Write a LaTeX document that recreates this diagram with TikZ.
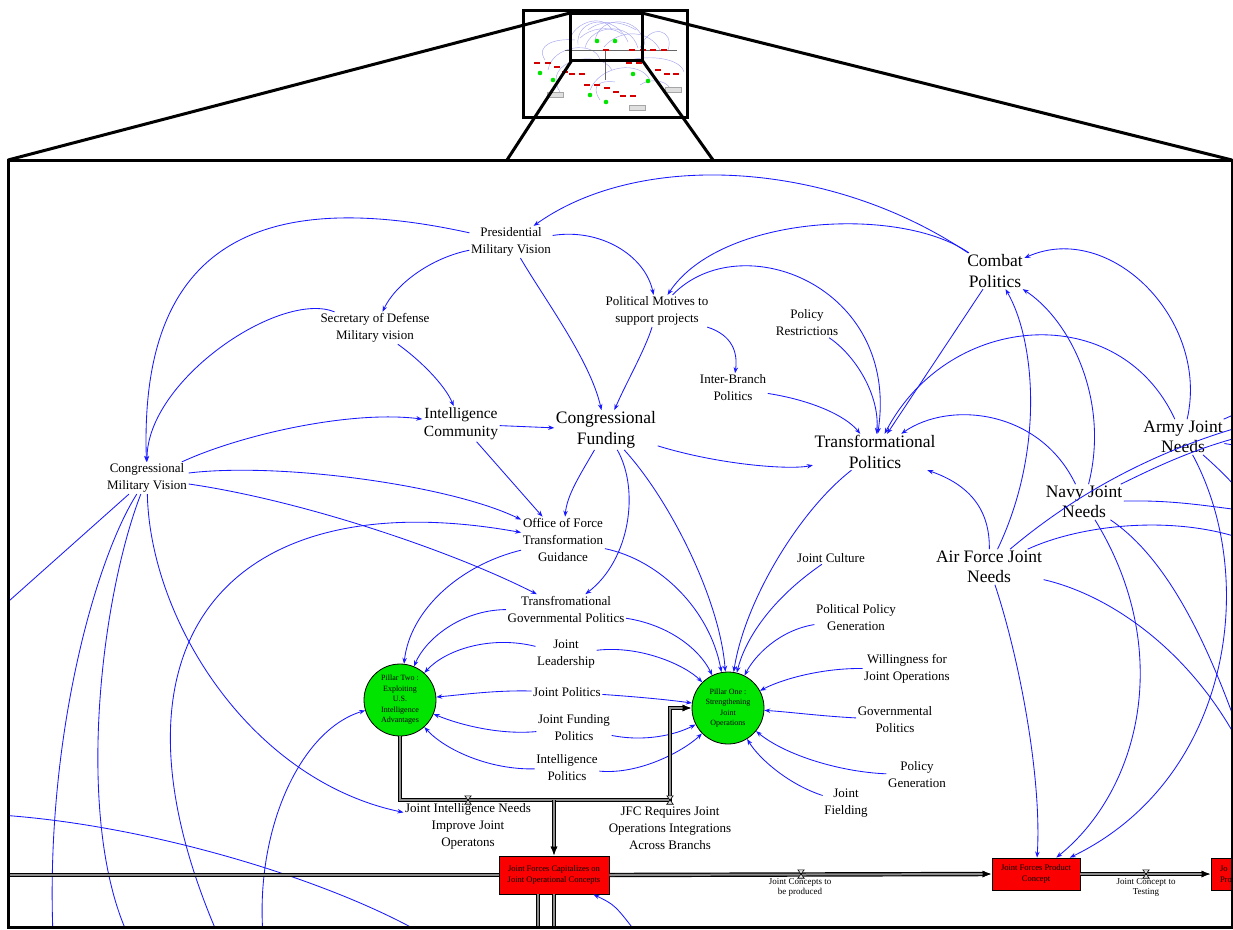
\documentclass[tikz,border=0pt]{standalone}
\usepackage{fontspec}
\setmainfont{Liberation Serif}
\usetikzlibrary{arrows.meta}

\definecolor{linkblue}{RGB}{25,25,255}
\definecolor{stockred}{RGB}{250,0,0}
\definecolor{pillargreen}{RGB}{0,228,0}
\definecolor{ghostblue}{RGB}{165,165,240}

\tikzset{
  lbl/.style={align=center, inner sep=1.5pt, font=\fontsize{13}{17}\selectfont},
  midlbl/.style={align=center, inner sep=1.5pt, font=\fontsize{15.5}{18}\selectfont},
  biglbl/.style={align=center, inner sep=1.5pt, font=\fontsize{17.5}{20.5}\selectfont},
  flowlbl/.style={align=center, inner sep=1pt, font=\fontsize{9}{10}\selectfont},
  link/.style={draw=linkblue, line width=0.85pt, -{Stealth[length=6pt,width=4.5pt]}},
  tail/.style={draw=linkblue, line width=0.85pt},
  pillar/.style={circle, draw=black, line width=0.8pt, fill=pillargreen, minimum size=72pt,
    inner sep=0pt, align=center, font=\fontsize{8}{10.5}\selectfont},
  stock/.style={rectangle, draw=black, line width=0.8pt, fill=stockred, align=center,
    inner sep=2pt, font=\fontsize{8.5}{11}\selectfont},
  pipe/.style={draw=black!45, line width=2pt, preaction={draw=black, line width=4.4pt}},
  pipeend/.style={-{Latex[length=9pt,width=7pt,color=black]}},
  valve/.style={minimum width=6pt, minimum height=8pt, inner sep=0pt},
  heavy/.style={draw=black, line width=3pt},
  mini/.style={fill=stockred!85!black, draw=none},
}

\begin{document}
\begin{tikzpicture}[x=1pt,y=-1pt]
\useasboundingbox (0,0) rectangle (1233,929);

% ---------- overview thumbnail ----------
\begin{scope}[ghostblue, line width=0.45pt]
  \draw (578,45) .. controls (575,18) and (615,12) .. (628,42);
  \draw (585,48) .. controls (590,25) and (630,20) .. (638,48);
  \draw (595,40) .. controls (600,15) and (640,15) .. (645,45);
  \draw (572,50) .. controls (560,30) and (600,8) .. (612,30);
  \draw (604,47) .. controls (620,28) and (650,30) .. (660,50);
  \draw (640,48) .. controls (650,22) and (675,30) .. (668,50);
  \draw (588,30) .. controls (600,20) and (620,20) .. (636,30);
  \draw (580,38) .. controls (590,28) and (610,25) .. (622,34);
  \draw (548,70) .. controls (552,45) and (595,40) .. (600,60);
  \draw (560,92) .. controls (540,60) and (600,48) .. (612,70);
  \draw (590,90) .. controls (600,65) and (640,60) .. (650,80);
  \draw (630,60) .. controls (650,55) and (680,58) .. (684,72);
  \draw (545,60) .. controls (535,45) and (555,38) .. (575,40);
  \draw (600,100) .. controls (590,85) and (600,80) .. (615,82);
  \draw (640,85) .. controls (650,78) and (665,80) .. (670,88);
\end{scope}
\draw[black!60, line width=0.4pt] (565,50) -- (677,50) (605,50) -- (605,80);
\foreach \p in {(606,50),(632,50),(643,50),(653,50),(664,50),(537,63),(548,63),(557,67),
  (565,72),(572,74),(582,74),(629,63),(639,63),(658,70),(667,74),(676,74),(587,85),
  (597,85),(607,88),(616,92),(623,96),(633,96)}
  \fill[mini] \p +(-3,-1.3) rectangle +(3,1.3);
\foreach \p in {(597,41),(615,41),(540,73),(633,74),(648,81),(590,95),(606,102),(553,80)}
  \fill[pillargreen] \p circle (2.3);
\foreach \p in {(555,95),(673,90),(637,108)}
  \filldraw[fill=gray!25, draw=gray!70, line width=0.3pt] \p +(-8,-2.5) rectangle +(8,2.5);
\draw[heavy] (523,10) rectangle (687,117);
\draw[heavy] (570,13) rectangle (642,60);
\draw[heavy] (8,160) -- (570,13);
\draw[heavy] (1232,160) -- (642,13);
\draw[heavy] (572,60) -- (507,160);
\draw[heavy] (642,60) -- (713,160);

% ---------- enlarged panel ----------
\begin{scope}
\clip (8,160) rectangle (1232,927);

% variables
\node[lbl] (pres) at (511,242) {Presidential\\Military Vision};
\node[lbl] (secdef) at (375,328) {Secretary of Defense\\Military vision};
\node[lbl] (polmot) at (657,311) {Political Motives to\\support projects};
\node[lbl] (polres) at (807,323) {Policy\\Restrictions};
\node[biglbl] (combat) at (995,271) {Combat\\Politics};
\node[lbl] (interb) at (733,388) {Inter-Branch\\Politics};
\node[midlbl] (intcom) at (461,424) {Intelligence\\Community};
\node[biglbl] (cfund) at (606,430) {Congressional\\Funding};
\node[biglbl] (tpol) at (875,452) {Transformational\\Politics};
\node[biglbl] (army) at (1183,437) {Army Joint\\Needs};
\node[biglbl] (navy) at (1084,502) {Navy Joint\\Needs};
\node[biglbl] (airf) at (989,567) {Air Force Joint\\Needs};
\node[lbl] (cmv) at (147,478) {Congressional\\Military Vision};
\node[lbl] (oft) at (563,540) {Office of Force\\Transformation\\Guidance};
\node[lbl] (tgp) at (566,609) {Transfromational\\Governmental Politics};
\node[lbl] (jcult) at (831,558) {Joint Culture};
\node[lbl] (ppg) at (856,618) {Political Policy\\Generation};
\node[lbl] (will) at (907,669) {Willingness for\\Joint Operations};
\node[lbl] (jlead) at (566,654) {Joint\\Leadership};
\node[lbl] (jpol) at (567,692) {Joint Politics};
\node[lbl] (jfund) at (574,728) {Joint Funding\\Politics};
\node[lbl] (ipol) at (567,768) {Intelligence\\Politics};
\node[lbl] (gpol) at (895,720) {Governmental\\Politics};
\node[lbl] (polgen) at (917,775) {Policy\\Generation};
\node[lbl] (jfield) at (846,803) {Joint\\Fielding};
\node[lbl] (jin) at (468,826) {Joint Intelligence Needs\\Improve Joint\\Operatons};
\node[lbl] (jfc) at (670,828) {JFC Requires Joint\\Operations Integrations\\Across Branchs};

% pillars and stocks
\node[pillar] (p2) at (400,700) {Pillar Two :\\Exploiting\\U.S.\\Intelligence\\Advantages};
\node[pillar] (p1) at (728,708) {Pillar One :\\Strengthening\\Joint\\Operations};
\node[stock, minimum width=110pt, minimum height=38pt] (cap) at (554,875)
  {Joint Forces Capitalizes on\\Joint Operational Concepts};
\node[stock, minimum width=88pt, minimum height=32pt] (jfpc) at (1036,874)
  {Joint Forces Product\\Concept};
\node[stock, minimum width=88pt, minimum height=32pt, text width=70pt, align=left] (nxt)
  at (1255,874) {Jo\\Pro};
\node[flowlbl] (jcp) at (800,887) {Joint Concepts to\\be produced};
\node[flowlbl] (jct) at (1146,887) {Joint Concept to\\Testing};

% free ends leaving the panel
\coordinate (eW1) at (0,609);
\coordinate (eW2) at (0,815);
\coordinate (eS1) at (53,935);
\coordinate (eS2) at (128,935);
\coordinate (eS3) at (218,935);
\coordinate (eS4) at (263,935);
\coordinate (eS5) at (425,935);
\coordinate (eS6) at (638,935);
\coordinate (eE1) at (1240,427);
\coordinate (eE2) at (1240,437);
\coordinate (eE3) at (1240,510);
\coordinate (eE4) at (1240,538);
\coordinate (eE5) at (1240,745);
\coordinate (eE6) at (1240,735);
\coordinate (eE7) at (1240,492);
\coordinate (eE8) at (1240,412);
\coordinate (eE9) at (1240,446);
\coordinate (eP1) at (0,875);
\coordinate (eP2) at (538,935);
\coordinate (eP3) at (554,935);
\coordinate (jn) at (554,800);

% causal links, upper part
\draw[link] (combat) .. controls (830,160) and (640,150) .. (pres);
\draw[link] (pres) .. controls (230,180) and (140,270) .. (cmv);
\draw[link] (secdef) .. controls (280,290) and (147,380) .. (cmv);
\draw[link] (pres) .. controls (430,258) and (395,285) .. (secdef);
\draw[link] (pres) .. controls (600,228) and (645,255) .. (polmot);
\draw[link] (pres) .. controls (545,300) and (590,360) .. (cfund);
\draw[link] (combat) .. controls (900,205) and (720,215) .. (polmot);
\draw[link] (polmot) .. controls (740,225) and (900,285) .. (tpol);
\draw[link] (polmot) .. controls (645,350) and (625,385) .. (cfund);
\draw[link] (polmot) .. controls (732,335) and (738,352) .. (interb);
\draw[link] (polres) .. controls (855,355) and (880,395) .. (tpol);
\draw[link] (interb) .. controls (810,400) and (845,415) .. (tpol);
\draw[link] (combat) -- (tpol);
\draw[link] (army) .. controls (1120,300) and (950,310) .. (tpol);
\draw[link] (navy) .. controls (1040,410) and (950,400) .. (tpol);
\draw[link] (airf) .. controls (990,510) and (970,485) .. (tpol);
\draw[link] (cfund) .. controls (720,465) and (790,470) .. (tpol);
\draw[link] (intcom) -- (cfund);
\draw[link] (intcom) -- (oft);
\draw[link] (secdef) .. controls (420,360) and (445,385) .. (intcom);
\draw[link] (cmv) .. controls (240,435) and (350,410) .. (intcom);
\draw[link] (cmv) .. controls (280,462) and (450,485) .. (oft);
\draw[link] (cmv) .. controls (300,500) and (450,550) .. (tgp);
\draw[link] (cmv) .. controls (150,620) and (250,780) .. (jin);
\draw[link] (cfund) .. controls (580,475) and (567,495) .. (oft);
\draw[link] (cfund) .. controls (640,490) and (630,560) .. (tgp);

% links into the pillars
\draw[link] (tpol) .. controls (800,510) and (745,600) .. (p1);
\draw[link] (cfund) .. controls (670,500) and (720,600) .. (p1);
\draw[link] (oft) .. controls (660,560) and (710,610) .. (p1);
\draw[link] (tgp) .. controls (670,625) and (700,650) .. (p1);
\draw[link] (oft) .. controls (460,565) and (410,610) .. (p2);
\draw[link] (tgp) .. controls (460,610) and (425,640) .. (p2);
\draw[link] (jlead) .. controls (490,635) and (445,650) .. (p2);
\draw[link] (jlead) .. controls (640,645) and (685,665) .. (p1);
\draw[link] (jpol) .. controls (495,690) and (460,695) .. (p2);
\draw[link] (jpol) .. controls (640,697) and (670,700) .. (p1);
\draw[link] (jfund) .. controls (500,735) and (460,725) .. (p2);
\draw[link] (jfund) .. controls (645,742) and (675,735) .. (p1);
\draw[link] (ipol) .. controls (490,770) and (445,750) .. (p2);
\draw[link] (ipol) .. controls (640,775) and (685,750) .. (p1);
\draw[link] (jcult) .. controls (770,600) and (745,640) .. (p1);
\draw[link] (ppg) .. controls (780,630) and (755,655) .. (p1);
\draw[link] (will) .. controls (820,668) and (780,680) .. (p1);
\draw[link] (gpol) .. controls (820,716) and (790,712) .. (p1);
\draw[link] (polgen) .. controls (840,772) and (785,755) .. (p1);
\draw[link] (jfield) .. controls (790,785) and (760,760) .. (p1);

% joint needs
\draw[link] (army) .. controls (1210,320) and (1110,220) .. (combat);
\draw[link] (navy) .. controls (1110,400) and (1070,320) .. (combat);
\draw[link] (airf) .. controls (1045,450) and (1035,340) .. (combat);
\draw[link] (airf) .. controls (1020,660) and (1042,780) .. (jfpc);
\draw[link] (navy) .. controls (1175,650) and (1140,790) .. (jfpc);
\draw[link] (army) .. controls (1260,580) and (1230,780) .. (jfpc);
\draw[tail] (airf) .. controls (1080,490) and (1160,450) .. (eE1);
\draw[tail] (navy) .. controls (1150,470) and (1190,450) .. (eE2);
\draw[tail] (navy) .. controls (1170,500) and (1200,505) .. (eE3);
\draw[tail] (airf) .. controls (1080,525) and (1170,515) .. (eE4);
\draw[tail] (airf) .. controls (1110,595) and (1190,650) .. (eE5);
\draw[tail] (navy) .. controls (1170,560) and (1210,650) .. (eE6);
\draw[tail] (army) .. controls (1220,470) and (1230,480) .. (eE7);
\draw[tail] (eE8) -- (army);
\draw[tail] (eE9) -- (army);

% links running off the lower and left edges
\draw[tail] (cmv) -- (eW1);
\draw[tail] (cmv) .. controls (95,560) and (45,740) .. (eS1);
\draw[tail] (cmv) .. controls (100,600) and (75,820) .. (eS2);
\draw[tail] (eW2) .. controls (150,825) and (330,880) .. (eS5);
\draw[link] (eS3) .. controls (90,640) and (230,480) .. (oft);
\draw[link] (eS4) .. controls (255,830) and (300,730) .. (p2);
\draw[link] (eS6) .. controls (615,905) .. (cap);

% material flows
\node[valve] (vL) at (468,800) {};
\node[valve] (vR) at (670,800) {};
\node[valve] (vC) at (801,874) {};
\node[valve] (vD) at (1146,874) {};
\draw[pipe, pipeend] (p2.south) |- (vR.center) |- (p1.west);
\draw[pipe, pipeend] (jn) -- (cap.north);
\draw[pipe] (eP1) -- (cap.west);
\draw[pipe, pipeend] (cap.east) -- (jfpc.west);
\draw[pipe, pipeend] (jfpc.east) -- (nxt.west);
\draw[pipe] (cap.south -| eP2) -- (eP2);
\draw[pipe] (cap.south -| eP3) -- (eP3);
\foreach \v in {vL,vR,vC,vD}
  \filldraw[fill=gray!20, draw=black, line width=0.6pt]
    (\v.north west) -- (\v.north east) -- (\v.south west) -- (\v.south east) -- cycle;
\end{scope}

\draw[heavy] (8,160) rectangle (1232,927);
\end{tikzpicture}
\end{document}
